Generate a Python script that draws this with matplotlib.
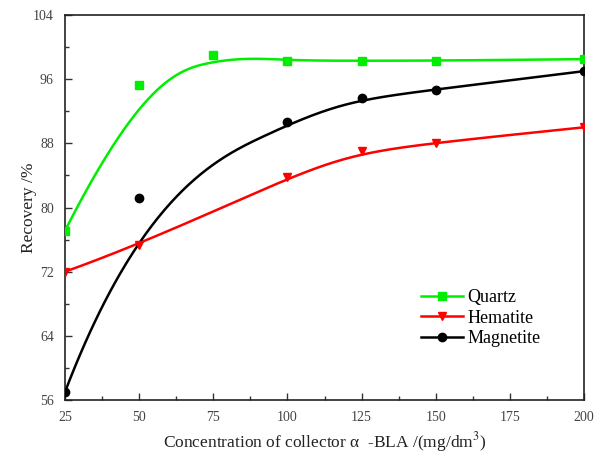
import numpy as np
import matplotlib
matplotlib.use("Agg")
import matplotlib.pyplot as plt

plt.rcParams['font.family'] = ['Liberation Serif', 'DejaVu Serif']
plt.rcParams['mathtext.fontset'] = 'stix'

# Data
x_quartz = [25, 50, 75, 100, 125, 150, 200]
y_quartz = [77.1, 95.3, 99.0, 98.3, 98.3, 98.3, 98.5]
x_hem = [25, 50, 100, 125, 150, 200]
y_hem = [72.0, 75.3, 83.8, 87.0, 88.1, 90.0]
x_mag = [25, 50, 100, 125, 150, 200]
y_mag = [57.0, 81.2, 90.7, 93.7, 94.7, 97.0]

series_names = ["Quartz", "Hematite", "Magnetite"]
x_ticks = [25, 50, 75, 100, 125, 150, 175, 200]
y_ticks = [56, 64, 72, 80, 88, 96, 104]


def bspline(xs, ys, k=3, n=400):
    """Clamped B-spline using the data points as control points."""
    P = np.column_stack([xs, ys]).astype(float)
    m = len(P)
    k = min(k, m - 1)
    inner = np.linspace(0, 1, m - k + 1)
    t = np.concatenate([np.zeros(k), inner, np.ones(k)])
    u = np.linspace(0, 1, n)
    u[-1] = 1 - 1e-12

    def basis(i, p, uu):
        if p == 0:
            return np.where((t[i] <= uu) & (uu < t[i + 1]), 1.0, 0.0)
        d1 = t[i + p] - t[i]
        d2 = t[i + p + 1] - t[i + 1]
        r = np.zeros_like(uu)
        if d1 > 0:
            r = r + (uu - t[i]) / d1 * basis(i, p - 1, uu)
        if d2 > 0:
            r = r + (t[i + p + 1] - uu) / d2 * basis(i + 1, p - 1, uu)
        return r

    B = np.array([basis(i, k, u) for i in range(m)])
    C = B.T @ P
    return C[:, 0], C[:, 1]


fig = plt.figure(figsize=(5.94, 4.59), dpi=100)
ax = fig.add_axes([0.1094, 0.1285, 0.8738, 0.8388])

colors = ["#00ee00", "#ff0000", "#000000"]
markers = ["s", "v", "o"]
data = [(x_quartz, y_quartz), (x_hem, y_hem), (x_mag, y_mag)]

for (xs, ys), c, mk, name in zip(data, colors, markers, series_names):
    cx, cy = bspline(xs, ys)
    ax.plot(cx, cy, color=c, lw=1.8, zorder=2)
    ax.plot(xs, ys, linestyle='none', marker=mk, color=c, ms=6, zorder=3)
    ax.plot([], [], color=c, lw=1.8, marker=mk, ms=6, label=name)

ax.set_xlim(25, 200)
ax.set_ylim(56, 104)
ax.set_xticks(x_ticks)
ax.set_yticks(y_ticks)
ax.set_xticks(np.arange(37.5, 200, 25), minor=True)
ax.set_yticks(np.arange(60, 104, 8), minor=True)
ax.tick_params(which='both', direction='in', top=False, right=False,
               labelsize=10, colors='#333333', labelcolor='#444444')
ax.tick_params(which='major', length=5, width=1, pad=8)
ax.tick_params(which='minor', length=3, width=1)
for s in ax.spines.values():
    s.set_linewidth(1.2)
    s.set_color('#222222')

ax.set_ylabel("Recovery /%", fontsize=12.5, color='#222222', labelpad=-3)
ax.set_xlabel(r"Concentration of collector α  -BLA /(mg/dm$^3$)", fontsize=12.5,
              color='#222222', labelpad=4)

leg = ax.legend(loc='upper left', bbox_to_anchor=(0.672, 0.307), frameon=False,
                fontsize=13, handlelength=2.3, handletextpad=0.25,
                labelspacing=0.2, borderaxespad=0)

fig.savefig("out.png", dpi=100)
